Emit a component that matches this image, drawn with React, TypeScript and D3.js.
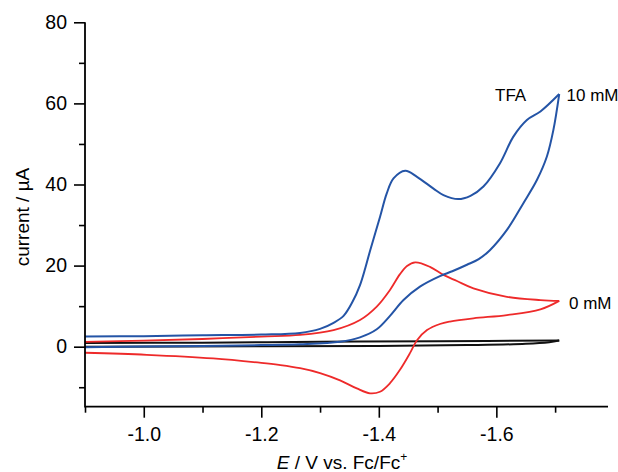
import * as d3 from "d3";
import React, { useRef, useEffect } from "react";

// cyclic voltammograms, each as forward (to -1.71 V) and return sweep: [E (V), I (µA)]
const tfa10Forward: [number, number][] = [
  [-0.9, 2.5], [-1.0, 2.6], [-1.1, 2.8], [-1.2, 3.0], [-1.266, 3.4], [-1.3, 4.4],
  [-1.323, 5.9], [-1.34, 7.6], [-1.355, 11.0], [-1.368, 15.2], [-1.377, 19.4], [-1.385, 23.6],
  [-1.402, 32.0], [-1.4135, 37.8], [-1.425, 41.5], [-1.445, 43.4], [-1.465, 41.9],
  [-1.493, 39.0], [-1.51, 37.4], [-1.535, 36.4], [-1.556, 37.2], [-1.578, 39.5],
  [-1.606, 45.2], [-1.629, 51.8], [-1.652, 55.9], [-1.675, 58.0], [-1.707, 62.3],
];
const tfa10Reverse: [number, number][] = [
  [-1.707, 62.3], [-1.697, 53.4], [-1.686, 46.9], [-1.669, 41.1], [-1.646, 35.4],
  [-1.618, 28.8], [-1.589, 23.8], [-1.57, 21.6], [-1.55, 20.2], [-1.525, 18.6],
  [-1.504, 17.4], [-1.47, 14.8], [-1.442, 11.5], [-1.419, 7.6], [-1.3965, 4.3],
  [-1.368, 2.3], [-1.334, 1.2], [-1.266, 0.6], [-1.2, 0.4], [-1.1, 0.2], [-1.0, 0.05],
  [-0.9, -0.15],
];
const tfa0Forward: [number, number][] = [
  [-0.9, 1.2], [-1.0, 1.5], [-1.1, 1.9], [-1.2, 2.5], [-1.266, 2.9], [-1.323, 4.1],
  [-1.368, 6.6], [-1.3965, 9.9], [-1.419, 14.0], [-1.436, 17.9], [-1.448, 19.9],
  [-1.462, 20.8], [-1.487, 19.7], [-1.51, 17.7], [-1.533, 16.2], [-1.561, 14.4],
  [-1.618, 12.3], [-1.675, 11.5], [-1.707, 11.3],
];
const tfa0Reverse: [number, number][] = [
  [-1.707, 11.3], [-1.675, 9.2], [-1.618, 7.8], [-1.561, 7.0], [-1.521, 6.2],
  [-1.504, 5.6], [-1.482, 4.1], [-1.465, 1.6], [-1.453, -1.6], [-1.436, -5.7],
  [-1.419, -9.0], [-1.402, -11.1], [-1.385, -11.5], [-1.3625, -10.3], [-1.334, -8.3],
  [-1.3, -6.5], [-1.266, -5.3], [-1.23, -4.5], [-1.2, -4.0], [-1.118, -2.9],
  [-1.005, -2.0], [-0.9, -1.5],
];
const blankForward: [number, number][] = [
  [-0.9, 0.9], [-1.1, 1.0], [-1.3, 1.2], [-1.5, 1.35], [-1.707, 1.5],
];
const blankReverse: [number, number][] = [
  [-1.707, 1.5], [-1.69, 1.1], [-1.65, 0.7], [-1.55, 0.4], [-1.4, 0.2], [-1.2, 0.1],
  [-0.9, 0.0],
];

const xMajor = [-1.0, -1.2, -1.4, -1.6];
const xMinor = [-0.9, -1.1, -1.3, -1.5, -1.7];
const yMajor = [0, 20, 40, 60, 80];
const yMinor = [-10, 10, 30, 50, 70];

const W = 618;
const H = 472;
const FONT = "Liberation Sans, Arial, sans-serif";

const App = () => {
  const ref = useRef<SVGSVGElement>(null);

  useEffect(() => {
    const svg = d3.select(ref.current);
    svg.selectAll("*").remove();

    const x = d3.scaleLinear().domain([-0.9, -1.79]).range([85, 608]);
    const y = d3.scaleLinear().domain([-14.8, 80]).range([406.7, 22.3]);

    const line = d3
      .line<[number, number]>()
      .x((d) => x(d[0]))
      .y((d) => y(d[1]))
      .curve(d3.curveCatmullRom.alpha(0.5));

    const curves = [
      { data: [blankForward, blankReverse], color: "#111111", w: 2 },
      { data: [tfa0Forward, tfa0Reverse], color: "#ee2a2a", w: 1.8 },
      { data: [tfa10Forward, tfa10Reverse], color: "#2454a6", w: 2 },
    ];
    curves.forEach((c) => {
      c.data.forEach((seg) => {
        svg
          .append("path")
          .attr("d", line(seg))
          .attr("fill", "none")
          .attr("stroke", c.color)
          .attr("stroke-width", c.w)
          .attr("stroke-linejoin", "round");
      });
    });

    // axes
    const yAx = svg.append("g").attr("transform", "translate(85,0)");
    yAx.call(
      d3.axisLeft(y).tickValues(yMajor).tickSize(11).tickPadding(7).tickFormat(d3.format("d"))
    );
    yAx.append("g").call(d3.axisLeft(y).tickValues(yMinor).tickSize(6).tickFormat(() => ""));

    const xAx = svg.append("g").attr("transform", "translate(0,406.7)");
    xAx.call(
      d3.axisBottom(x).tickValues(xMajor).tickSize(11).tickPadding(9).tickFormat(d3.format(".1f"))
    );
    xAx.append("g").call(d3.axisBottom(x).tickValues(xMinor).tickSize(6).tickFormat(() => ""));

    svg.selectAll(".domain").remove();
    svg
      .selectAll(".tick line")
      .attr("stroke", "#000")
      .attr("stroke-width", 1.6);
    svg
      .selectAll(".tick text")
      .attr("font-family", FONT)
      .attr("font-size", 19.5)
      .attr("fill", "#000")
      .text(function () {
        return d3.select(this).text().replace("−", "-");
      });

    svg
      .append("path")
      .attr("d", `M85,${y(80)}V406.7H608`)
      .attr("fill", "none")
      .attr("stroke", "#000")
      .attr("stroke-width", 1.8);

    // axis titles
    svg
      .append("text")
      .attr("transform", "translate(29,217) rotate(-90)")
      .attr("text-anchor", "middle")
      .attr("font-family", FONT)
      .attr("font-size", 19)
      .text("current / µA");

    const xt = svg
      .append("text")
      .attr("x", 342)
      .attr("y", 468.7)
      .attr("text-anchor", "middle")
      .attr("font-family", FONT)
      .attr("font-size", 19);
    xt.append("tspan").attr("font-style", "italic").text("E");
    xt.append("tspan").text(" / V vs. Fc/Fc");
    xt.append("tspan").attr("font-size", 12).attr("dy", -8).text("+");

    // labels
    const labels = [
      { t: "TFA", px: 495, py: 100.7 },
      { t: "10 mM", px: 566.5, py: 100.7 },
      { t: "0 mM", px: 569, py: 309 },
    ];
    labels.forEach((l) => {
      svg
        .append("text")
        .attr("x", l.px)
        .attr("y", l.py)
        .attr("font-family", FONT)
        .attr("font-size", 17)
        .text(l.t);
    });
  }, []);

  return (
    <svg
      ref={ref}
      width={W}
      height={H}
      style={{ position: "absolute", left: 0, top: 0, background: "#fff" }}
    />
  );
};

export default App;
